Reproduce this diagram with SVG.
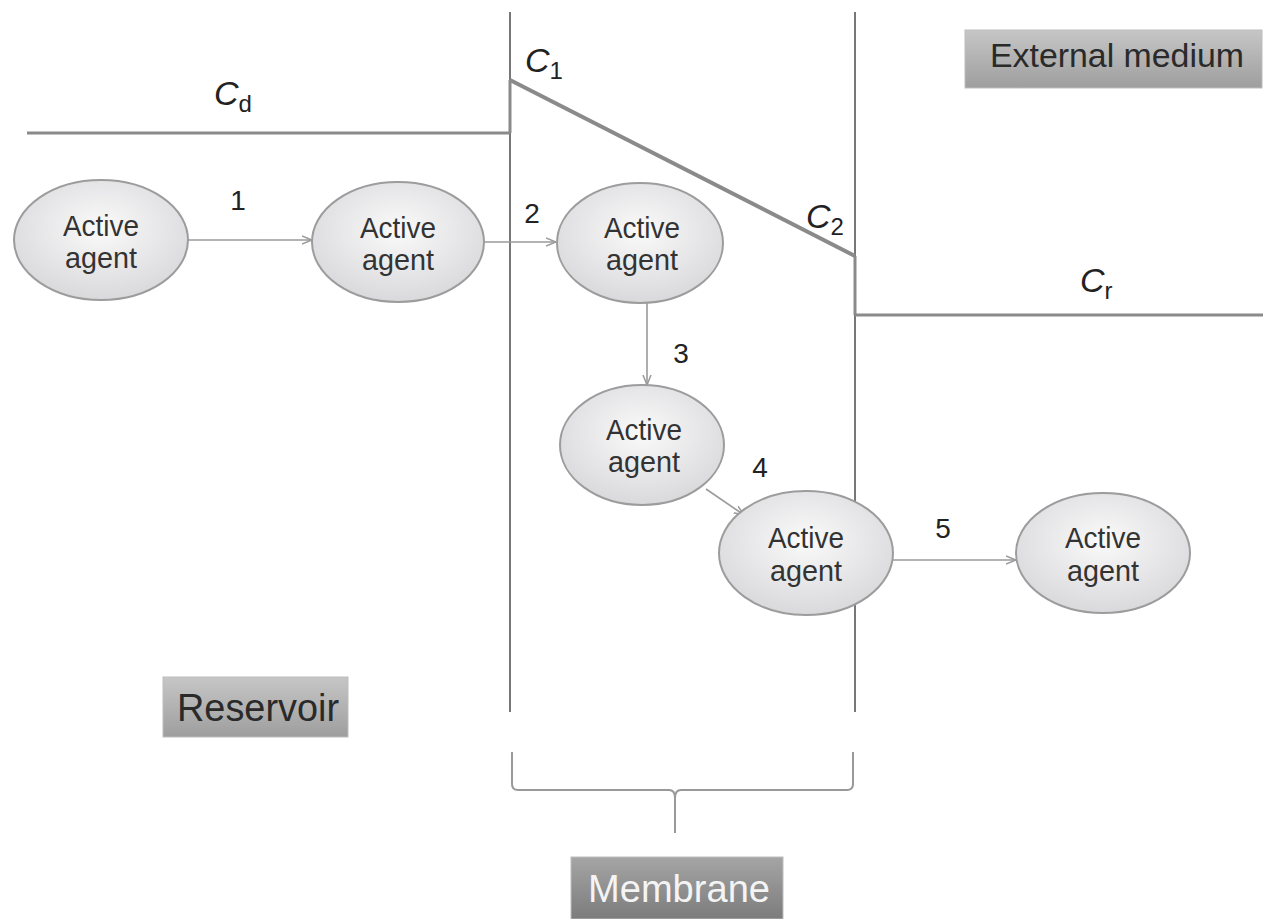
<svg xmlns="http://www.w3.org/2000/svg" width="1263" height="919" viewBox="0 0 1263 919">
<style>
.ln{stroke:#8a8a8a;stroke-width:3;fill:none}
.conn{stroke:#9a9a9a;stroke-width:1.6;fill:none}
.node ellipse{fill:url(#eg);stroke:#9c9c9c;stroke-width:2}
.node text{font-family:"Liberation Sans",Arial,sans-serif;font-size:29px;fill:#333;text-anchor:middle}
.num{font-family:"Liberation Sans",Arial,sans-serif;font-size:28px;fill:#222;text-anchor:middle}
.c{font-family:"Liberation Sans",Arial,sans-serif;font-size:34px;font-style:italic;fill:#222}
.sub{font-size:24px;font-style:normal}
.lab rect{fill:url(#bg);stroke:#bdbdbd;stroke-width:1}
.lab text{font-family:"Liberation Sans",Arial,sans-serif;font-size:38px;text-anchor:middle}
</style>
<defs>
<radialGradient id="eg" cx="50%" cy="40%" r="60%">
<stop offset="0" stop-color="#fafafa"/><stop offset="1" stop-color="#d9d9dc"/>
</radialGradient>
<linearGradient id="bg" x1="0" y1="0" x2="0" y2="1">
<stop offset="0" stop-color="#c6c6c6"/><stop offset="1" stop-color="#9e9e9e"/>
</linearGradient>
<linearGradient id="bgd" x1="0" y1="0" x2="0" y2="1">
<stop offset="0" stop-color="#a5a5a5"/><stop offset="1" stop-color="#7c7c7c"/>
</linearGradient>
<marker id="ah" viewBox="0 0 10 10" refX="10" refY="5" markerWidth="10" markerHeight="10" orient="auto" markerUnits="userSpaceOnUse">
<path d="M0,1 L10,5 L0,9" fill="none" stroke="#9a9a9a" stroke-width="1.5"/>
</marker>
</defs>
<rect width="1263" height="919" fill="#fff"/>
<g id="structure">
<line x1="510" y1="12" x2="510" y2="712" stroke="#777" stroke-width="2"/>
<line x1="855" y1="12" x2="855" y2="712" stroke="#777" stroke-width="2"/>
<line class="ln" x1="27" y1="133" x2="510" y2="133"/>
<line class="ln" x1="510" y1="80" x2="855" y2="256" style="stroke-width:4"/>
<line class="ln" x1="855" y1="315" x2="1263" y2="315"/>
<line class="ln" x1="510" y1="80" x2="510" y2="133"/>
<line class="ln" x1="855" y1="256" x2="855" y2="315"/>
<path d="M512,752 L512,784 Q512,790 518,790 L669,790 Q675,790 675,798 L675,833 M675,798 Q675,790 681,790 L847,790 Q853,790 853,784 L853,752" fill="none" stroke="#999" stroke-width="2"/>
</g>
<g id="conc-labels">
<text class="c" x="214" y="105">C<tspan class="sub" dy="7">d</tspan></text>
<text class="c" x="525" y="72">C<tspan class="sub" dy="7">1</tspan></text>
<text class="c" x="806" y="228">C<tspan class="sub" dy="7">2</tspan></text>
<text class="c" x="1080" y="292">C<tspan class="sub" dy="7">r</tspan></text>
</g>
<g id="connectors">
<line class="conn" x1="188" y1="240" x2="312" y2="240" marker-end="url(#ah)"/>
<line class="conn" x1="484" y1="242" x2="556" y2="242" marker-end="url(#ah)"/>
<line class="conn" x1="647" y1="303" x2="647" y2="385" marker-end="url(#ah)"/>
<line class="conn" x1="706" y1="489" x2="744" y2="515" marker-end="url(#ah)"/>
<line class="conn" x1="893" y1="560" x2="1016" y2="560" marker-end="url(#ah)"/>
<text class="num" x="238" y="210">1</text>
<text class="num" x="532" y="223">2</text>
<text class="num" x="681" y="363">3</text>
<text class="num" x="760" y="477">4</text>
<text class="num" x="943" y="538">5</text>
</g>
<g id="n1" class="node"><ellipse cx="101" cy="240" rx="87" ry="60"/><text x="101" y="236" textLength="76" lengthAdjust="spacingAndGlyphs">Active</text><text x="101" y="268" textLength="72" lengthAdjust="spacingAndGlyphs">agent</text></g>
<g id="n2" class="node"><ellipse cx="398" cy="242" rx="86" ry="60"/><text x="398" y="238" textLength="76" lengthAdjust="spacingAndGlyphs">Active</text><text x="398" y="270" textLength="72" lengthAdjust="spacingAndGlyphs">agent</text></g>
<g id="n3" class="node"><ellipse cx="640" cy="243" rx="83" ry="60"/><text x="642" y="238" textLength="76" lengthAdjust="spacingAndGlyphs">Active</text><text x="642" y="270" textLength="72" lengthAdjust="spacingAndGlyphs">agent</text></g>
<g id="n4" class="node"><ellipse cx="642" cy="445" rx="82" ry="60"/><text x="644" y="440" textLength="76" lengthAdjust="spacingAndGlyphs">Active</text><text x="644" y="472" textLength="72" lengthAdjust="spacingAndGlyphs">agent</text></g>
<g id="n5" class="node"><ellipse cx="806" cy="553" rx="87" ry="62"/><text x="806" y="548" textLength="76" lengthAdjust="spacingAndGlyphs">Active</text><text x="806" y="581" textLength="72" lengthAdjust="spacingAndGlyphs">agent</text></g>
<g id="n6" class="node"><ellipse cx="1103" cy="553" rx="87" ry="60"/><text x="1103" y="548" textLength="76" lengthAdjust="spacingAndGlyphs">Active</text><text x="1103" y="581" textLength="72" lengthAdjust="spacingAndGlyphs">agent</text></g>
<g id="reservoir" class="lab"><rect x="163" y="677" width="185" height="60"/><text x="258" y="721" fill="#2a2a2a" textLength="162" lengthAdjust="spacingAndGlyphs">Reservoir</text></g>
<g id="external" class="lab"><rect x="965" y="30" width="297" height="58"/><text x="1117" y="67" fill="#2a2a2a" style="font-size:34px" textLength="254" lengthAdjust="spacingAndGlyphs">External medium</text></g>
<g id="membrane" class="lab"><rect x="571" y="857" width="212" height="62" style="fill:url(#bgd)"/><text x="679" y="902" fill="#f4f4f4" textLength="182" lengthAdjust="spacingAndGlyphs">Membrane</text></g>
</svg>
